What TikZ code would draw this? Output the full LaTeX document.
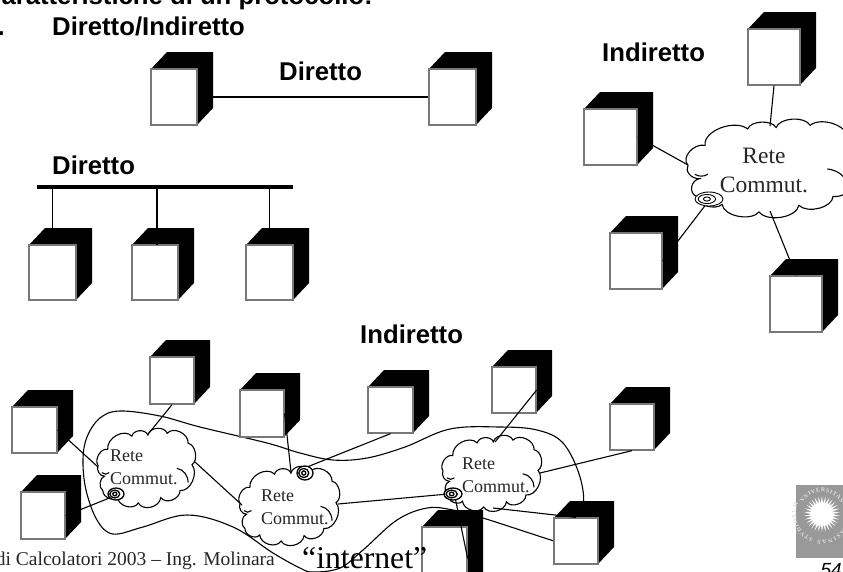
\documentclass[tikz,border=0pt]{standalone}
\usepackage{fontspec}
\setmainfont{Liberation Serif}
\setsansfont{Liberation Sans}
\usetikzlibrary{calc,shapes.geometric,decorations.text}
\definecolor{framegray}{gray}{0.47}
\definecolor{logogray}{gray}{0.6}
\tikzset{
  front/.style={draw=framegray,line width=1.3pt,fill=white,inner sep=0pt},
  conn/.style={line width=1.1pt,black},
  head/.style={font=\sffamily\bfseries\fontsize{25.7}{30}\selectfont,inner sep=0pt,anchor=base west},
  foot/.style={font=\rmfamily\fontsize{19.5}{23}\selectfont,inner sep=0pt,anchor=base east,text=black!85},
  bigrete/.style={font=\rmfamily\fontsize{23.5}{29}\selectfont,inner sep=0pt,align=center,text=black!85},
  smallrete/.style={font=\rmfamily\fontsize{18}{22.5}\selectfont,inner sep=0pt,align=left,text=black!85},
  cloudline/.style={line width=1.1pt,fill=white},
  every picture/.append style={x=1pt,y=-1pt}
}
% name, x0, y0, x1, y1 (front face)
\newcommand{\mycube}[5]{%
  \fill[black] (#2,#3) -- ($(#2,#3)+(16,-17)$) -- ($(#4,#3)+(16,-17)$) -- ($(#4,#5)+(16,-17)$) -- (#4,#5) -- cycle;
  \node[front,minimum width=#4pt-#2pt,minimum height=#5pt-#3pt] (#1) at ({(#2+#4)/2},{(#3+#5)/2}) {};
}
% x, y, w, h
\newcommand{\mycloud}[4]{%
  \begin{scope}[shift={(#1,#2)},xscale=#3/292,yscale=#4/207]
    \draw[cloudline] (0,102) to[bend left=70] (30,57) to[bend left=70] (105,20) to[bend left=70] (155,17)
      to[bend left=70] (215,12) to[bend left=70] (280,40) to[bend left=70] (292,100) to[bend left=70] (255,172)
      to[bend left=70] (195,192) to[bend left=70] (125,207) to[bend left=70] (60,190) to[bend left=70] (15,172)
      to[bend left=70] (20,132) to[bend left=60] cycle;
    \draw[line width=1.1pt] (12,122) to[bend right=40] (35,122);
    \draw[line width=1.1pt] (245,110) to[bend left=40] (280,150);
  \end{scope}
}
% x, y, rx, ry, line width
\newcommand{\myspiral}[5]{%
  \draw[line width=#5,fill=white] (#1,#2) ellipse [x radius=#3,y radius=#4];
  \draw[line width=#5] ({#1-0.15*#3},#2) ellipse [x radius=0.62*#3,y radius=0.65*#4];
  \draw[line width=#5] ({#1-0.15*#3},#2) ellipse [x radius=0.25*#3,y radius=0.3*#4];
}
\begin{document}
\begin{tikzpicture}
\path[use as bounding box] (0,0) rectangle (843,571);
\clip (0,0) rectangle (843,571);
\fill[white] (0,0) rectangle (843,571);

% "internet" closed curve
\draw[line width=1.1pt,smooth cycle,tension=0.6] plot coordinates {
 (83,460) (87,437) (100,418) (120,411) (160,416) (200,427) (267,443) (300,453) (333,460) (367,458) (405,447) (450,429) (500,427)
 (537,430) (563,443) (580,477) (583,510) (570,545) (554,541) (483,518) (453,510) (427,508) (397,520) (363,550) (340,568)
 (313,572) (300,568) (273,553) (233,527) (187,515) (143,527) (113,534) (97,520) (86,490)};

% headings
\node[head,anchor=base east] (title) at (373,4) {Caratteristiche di un protocollo:};
\node[head,anchor=base east] (dot) at (5,35) {.};
\node[head] (dirind) at (52,35) {Diretto/Indiretto};
\node[head] (dir1) at (279,80) {Diretto};
\node[head] (dir2) at (52,174) {Diretto};
\node[head] (ind1) at (602,61) {Indiretto};
\node[head] (ind2) at (360,343) {Indiretto};

% cubes
\mycube{A}{151}{69}{197}{125}
\mycube{B}{429}{69}{476}{125}
\mycube{C}{29}{245}{76}{300}
\mycube{D}{132}{245}{178}{300}
\mycube{E}{246}{245}{293}{300}
\mycube{F}{748}{29}{800}{85}
\mycube{G}{584}{109}{637}{165}
\mycube{H}{610}{233}{662}{289}
\mycube{I}{770}{276}{822}{332}
\mycube{J}{150}{357}{194}{404}
\mycube{K}{12}{407}{57}{453}
\mycube{L}{21}{492}{65}{539}
\mycube{M}{240}{390}{284}{437}
\mycube{N}{368}{387}{413}{433}
\mycube{O}{492}{367}{536}{413}
\mycube{P}{610}{404}{654}{450}
\mycube{Q}{554}{518}{598}{564}
\mycube{R}{422}{527}{467}{590}

% bus
\coordinate (busl) at (37,187);
\coordinate (busr) at (293,187);
\coordinate (dtop) at (157,245);
\draw[line width=3.8pt] (busl) -- (busr);
\draw[conn] (C.north |- busl) -- (C.north);
\draw[conn] (dtop |- busl) -- (dtop);
\draw[conn] (E.north |- busl) -- (E.north);
\draw[conn] (A.east) -- (B.west);

% connector ends on the clouds
\coordinate (a1) at (770,126);
\coordinate (a2) at (688,165);
\coordinate (a3) at (707,203);
\coordinate (a4) at (770,211);
\coordinate (b1) at (149,433);
\coordinate (b2) at (98,467);
\coordinate (b3) at (112,497);
\coordinate (b4) at (195,462);
\coordinate (c1) at (242,505);
\coordinate (c2) at (291,472);
\coordinate (c3) at (307,467);
\coordinate (c4) at (338,504);
\coordinate (d1) at (448,494);
\coordinate (d2) at (495,442);
\coordinate (d3) at (540,473);
\coordinate (d4) at (455,497);
\coordinate (d5) at (493,508);

% clouds
\mycloud{688}{120}{166}{92}
\mycloud{98}{429}{94}{74}
\mycloud{240}{467}{96}{74}
\mycloud{443}{436}{95}{71}

% connectors
\draw[conn] (F.south) -- (a1);
\draw[conn] (G.east) -- (a2);
\draw[conn] (H.east) -- (a3);
\draw[conn] (I.north) -- (a4);
\draw[conn] (J.south) -- (b1);
\draw[conn] (K.east) -- (b2);
\draw[conn] (L.east) -- (b3);
\draw[conn] (b4) -- (c1);
\draw[conn] (M.east) -- (c2);
\draw[conn] (N.south) -- (c3);
\draw[conn] (c4) -- (d1);
\draw[conn] (O.east) -- (d2);
\draw[conn] (P.south) -- (d3);
\draw[conn] (d4) -- (R.east);
\draw[conn] (d5) -- (Q.north);

% spirals
\myspiral{709}{199}{14}{7}{0.9pt}
\myspiral{116}{494}{8}{6}{1.3pt}
\myspiral{305}{473}{8}{7}{1.3pt}
\myspiral{453}{494}{9}{6}{1.3pt}

% cloud labels
\node[bigrete] (r1) at (764,170) {Rete\\Commut.};
\node[smallrete,anchor=north west] (r2) at (110,450) {Rete\\Commut.};
\node[smallrete,anchor=north west] (r3) at (261,490) {Rete\\Commut.};
\node[smallrete,anchor=north west] (r4) at (462,458) {Rete\\Commut.};

% footer
\node[foot] (footer) at (275,565) {Sistemi di Calcolatori 2003 – Ing. Molinara};
\node[font=\rmfamily\fontsize{31.7}{36}\selectfont,inner sep=0pt,anchor=base west] (internet) at (302,568) {“internet”};
\node[font=\sffamily\itshape\fontsize{19}{22}\selectfont,inner sep=0pt,anchor=base east] (pagenum) at (842,576) {54};

% logo
\fill[logogray] (796,485) rectangle (843,558);
\node[star,star points=30,star point ratio=1.7,minimum size=36pt,inner sep=0pt,fill=white] (sun) at (822,514) {};
\path[decorate,decoration={text along path,text={|\rmfamily\bfseries\fontsize{6}{7}\selectfont\color{black!12}|VNIVERSITAS},text align={fit to path}}]
  (822,514) ++(-150:22) arc[start angle=-150,end angle=-30,radius=22];
\path[decorate,decoration={text along path,text={|\rmfamily\bfseries\fontsize{6}{7}\selectfont\color{black!12}|CASINAS},text align={fit to path}}]
  (822,514) ++(25:26) arc[start angle=25,end angle=100,radius=26];
\path[decorate,decoration={text along path,text={|\rmfamily\bfseries\fontsize{6}{7}\selectfont\color{black!12}|STVDIORVM},text align={fit to path}}]
  (822,514) ++(110:26) arc[start angle=110,end angle=205,radius=26];
\end{tikzpicture}
\end{document}
